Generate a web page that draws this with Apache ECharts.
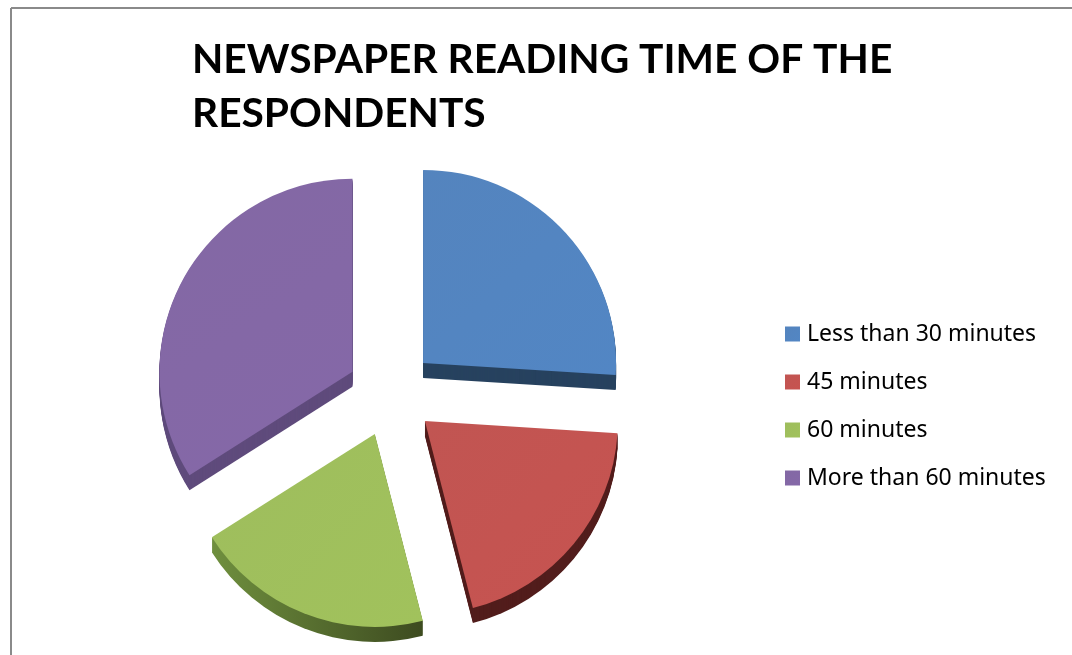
<!DOCTYPE html>
<html>
<head>
<meta charset="utf-8">
<script src="https://cdn.jsdelivr.net/npm/echarts@6/dist/echarts.min.js"></script>
<style>
  html, body { margin: 0; padding: 0; background: #ffffff; }
  #chart { width: 1072px; height: 655px; }
</style>
</head>
<body>
<div id="chart"></div>
<script>
// Survey answers: share of respondents (%) per daily newspaper reading time
const titleLines = ['NEWSPAPER READING TIME OF THE', 'RESPONDENTS'];
const categories = ['Less than 30 minutes', '45 minutes', '60 minutes', 'More than 60 minutes'];
const shares = [26, 20, 20, 34];

// Office-style palette: top faces and darker side walls
const faceColors = ['#4f81bd', '#c0504d', '#9bbb59', '#8064a2'];
const sideColors = ['#27425f', '#521d1c', '#4a5c28', '#5f4b7c'];

const cx = 391, cy = 393, radius = 193, explode = 44, depth = 15;

// pick a font size so that a string fills a given width
function fitSize(text, weight, family, width) {
  const ctx = document.createElement('canvas').getContext('2d');
  ctx.font = weight + ' 100px ' + family;
  return Math.round(100 * width / ctx.measureText(text).width * 10) / 10;
}
const titleFont = "'Lato', 'Open Sans', sans-serif";
const legendFont = "'Noto Sans', 'Open Sans', sans-serif";
const titleSize = fitSize(titleLines[0], 'bold', titleFont, 700);
const legendSize = fitSize(categories[3], 'normal', legendFont, 239);

function pieData(colors, shade) {
  return categories.map((name, i) => ({
    name: name,
    value: shares[i],
    selected: true,
    itemStyle: shade ? {
      color: i === 2
        ? new echarts.graphic.LinearGradient(0, 0, 1, 0, [
            { offset: 0, color: '#6f8f3e' }, { offset: 1, color: '#3d4b20' }])
        : colors[i]
    } : {
      color: new echarts.graphic.LinearGradient(0, 0, 1, 1, [
        { offset: 0, color: echarts.color.lift(colors[i], 0.03) },
        { offset: 1, color: echarts.color.lift(colors[i], -0.04) }])
    }
  }));
}

function pieLayer(offsetY, colors, shade, z) {
  return {
    type: 'pie',
    name: shade ? 'side' + offsetY : 'face',
    center: [cx, cy + offsetY],
    radius: [0, radius],
    startAngle: 90,
    clockwise: true,
    selectedMode: 'multiple',
    selectedOffset: explode,
    silent: true,
    animation: false,
    z: z,
    label: { show: false },
    labelLine: { show: false },
    emphasis: { disabled: true },
    itemStyle: { borderWidth: 0 },
    data: pieData(colors, shade)
  };
}

// top face first so the legend takes its colours; side walls are swept underneath
const series = [pieLayer(0, faceColors, false, 10)];
for (let d = depth; d >= 1; d -= 1) {
  series.push(pieLayer(d, sideColors, true, 2));
}

const chart = echarts.init(document.getElementById('chart'), null, { renderer: 'canvas' });
chart.setOption({
  backgroundColor: '#ffffff',
  animation: false,
  title: {
    text: titleLines.join('\n'),
    left: 187,
    top: 28,
    textStyle: {
      fontFamily: titleFont,
      fontWeight: 'bold',
      fontSize: titleSize,
      lineHeight: 54,
      color: '#000000'
    }
  },
  legend: {
    orient: 'vertical',
    left: 785,
    top: 322,
    padding: 0,
    icon: 'rect',
    itemWidth: 15,
    itemHeight: 15,
    itemGap: 24,
    selectedMode: false,
    data: categories,
    textStyle: {
      fontFamily: legendFont,
      fontSize: legendSize,
      lineHeight: 24,
      color: '#000000',
      padding: [0, 0, 0, 2]
    }
  },
  graphic: [
    { type: 'line', silent: true, shape: { x1: 11, y1: 8, x2: 1072, y2: 8 },
      style: { stroke: '#8a8a8a', lineWidth: 2 } },
    { type: 'line', silent: true, shape: { x1: 11, y1: 8, x2: 11, y2: 655 },
      style: { stroke: '#8a8a8a', lineWidth: 2 } }
  ],
  series: series
});
</script>
</body>
</html>
